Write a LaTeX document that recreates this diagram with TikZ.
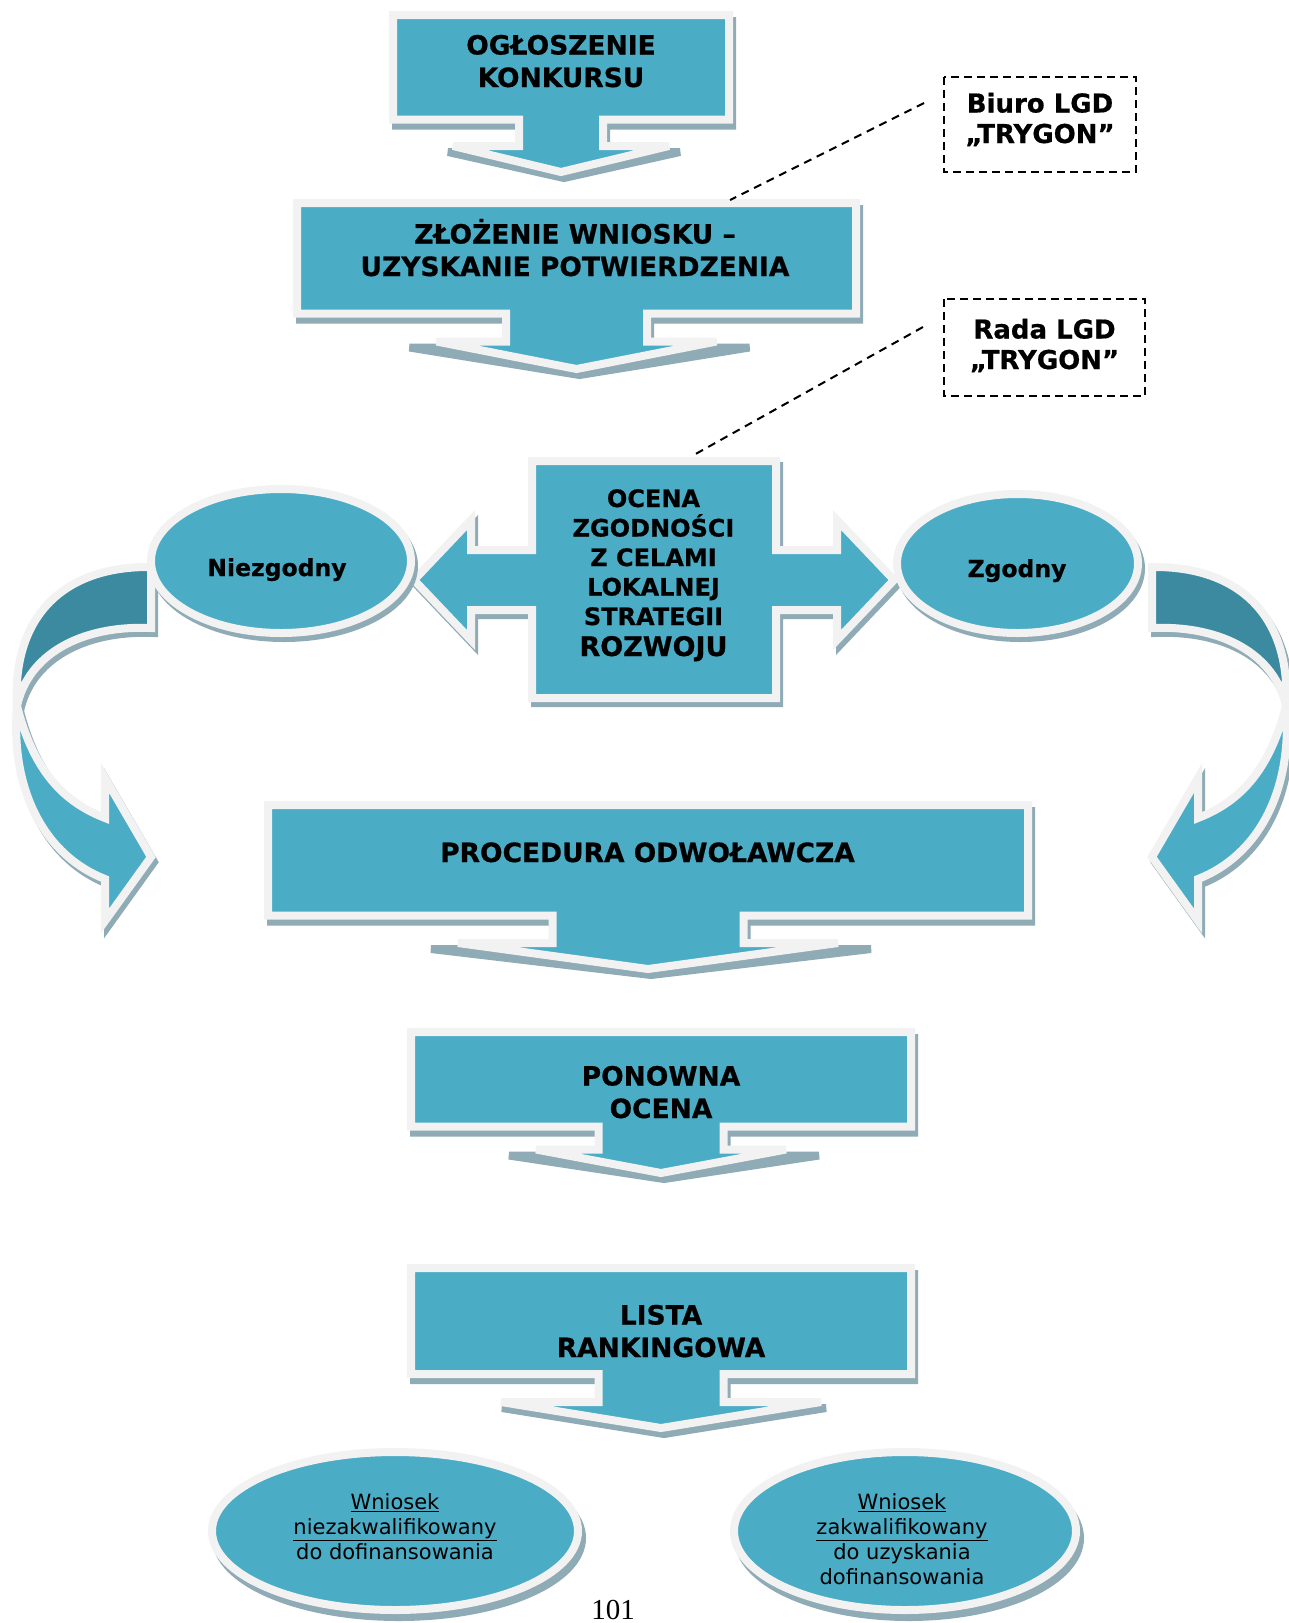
\documentclass[tikz,border=0pt]{standalone}
\usepackage{fontspec}
\setmainfont[BoldFeatures={FakeBold=0.6}]{DejaVu Sans}
\newfontfamily\numfont{Liberation Serif}
\definecolor{tealc}{RGB}{75,172,198}
\definecolor{lightc}{RGB}{242,242,242}
\definecolor{shadc}{RGB}{143,171,181}
\definecolor{darkc}{RGB}{60,138,159}
% down-arrow callout: cx, left, top, right, bottom, stem half width, wing y, wing half width, tip y
\newcommand{\dpath}[9]{(#2,#3) -- (#4,#3) -- (#4,#5) -- ({#1+#6},#5) -- ({#1+#6},#7) -- ({#1+#8},#7) -- (#1,#9) -- ({#1-#8},#7) -- ({#1-#6},#7) -- ({#1-#6},#5) -- (#2,#5) -- cycle}
% curved (twisted) arrow on the left side
\newcommand{\leftcurve}[2]{%
  \path[#1] (151,567) .. controls (60,566) and (12,620) .. (17,706) .. controls (28,655) and (80,625) .. (151,628) -- cycle;
  \path[#2] (17,706) .. controls (10,792) and (46,856) .. (105,879) -- (105,921) -- (151,857) -- (105,778) -- (105,818) .. controls (64,802) and (34,772) .. (17,706) -- cycle;
}
\begin{document}
\begin{tikzpicture}[x=1pt,y=-1pt,
  box/.style={draw=lightc,fill=tealc,line width=8pt,line join=miter,miter limit=3},
  shade/.style={draw=shadc,fill=shadc,line width=8pt,line join=miter,miter limit=3},
  cshade/.style={draw=shadc,fill=shadc,line width=8pt,line join=miter,miter limit=4},
  cdark/.style={draw=lightc,fill=darkc,line width=8pt,line join=miter,miter limit=4},
  cteal/.style={draw=lightc,fill=tealc,line width=8pt,line join=miter,miter limit=4},
  boxtxt/.style={font=\bfseries\fontsize{26.5}{32.5}\selectfont,align=center,anchor=base,inner sep=0pt},
  ovaltxt/.style={font=\bfseries\fontsize{23.5}{28}\selectfont,anchor=base,inner sep=0pt},
  lgdtxt/.style={font=\bfseries\fontsize{26}{30.5}\selectfont,align=center,anchor=base,inner sep=0pt},
  smalltxt/.style={font=\fontsize{21}{25}\selectfont,align=center,anchor=base,inner sep=0pt},
  lgdbox/.style={draw=black,line width=2pt,dash pattern=on 8pt off 5pt},
  dashln/.style={draw=black,line width=2pt,dash pattern=on 8pt off 6pt}]
\useasboundingbox (0,0) rectangle (1289,1623);
\fill[white] (0,0) rectangle (1289,1623);

% ---- curved arrows ----
\begin{scope}[shift={(3,5)}]
  \leftcurve{cshade}{cshade}
  \begin{scope}[shift={(1303,0)},xscale=-1]
    \leftcurve{cshade}{cshade}
  \end{scope}
\end{scope}
\leftcurve{cdark}{cteal}
\begin{scope}[shift={(1303,0)},xscale=-1]
  \leftcurve{cdark}{cteal}
\end{scope}

% ---- down callouts ----
\path[shade,shift={(3,6)}] \dpath{561}{393}{15}{729}{119.5}{42}{146}{116}{172};
\path[box] \dpath{561}{393}{15}{729}{119.5}{42}{146}{108}{172};

\path[shade,shift={(3,6)}] \dpath{576.5}{297}{203}{856}{313.5}{70.5}{341.5}{170}{369};
\path[box] \dpath{576.5}{297}{203}{856}{313.5}{70.5}{341.5}{140}{369};

\path[shade,shift={(3,6)}] \dpath{648}{268}{805}{1028}{915.5}{95.5}{943}{220}{969};
\path[box] \dpath{648}{268}{805}{1028}{915.5}{95.5}{943}{190}{969};

\path[shade,shift={(3,6)}] \dpath{661}{411}{1032}{911}{1126.5}{62.5}{1149.5}{155}{1173};
\path[box] \dpath{661}{411}{1032}{911}{1126.5}{62.5}{1149.5}{125}{1173};

\path[shade,shift={(3,6)}] \dpath{661}{411}{1268}{911}{1374}{62.5}{1402}{162}{1428};
\path[box] \dpath{661}{411}{1268}{911}{1374}{62.5}{1402}{160}{1428};

% ---- left-right arrow callout (OCENA) ----
\path[shade,shift={(3,5)}] (532,461) -- (776,461) -- (776,550) -- (837,550) -- (837,520) -- (894,580) -- (837,640) -- (837,610) -- (776,610) -- (776,698) -- (532,698) -- (532,610) -- (471,610) -- (471,640) -- (414,580) -- (471,520) -- (471,550) -- (532,550) -- cycle;
\path[box] (532,461) -- (776,461) -- (776,550) -- (837,550) -- (837,520) -- (894,580) -- (837,640) -- (837,610) -- (776,610) -- (776,698) -- (532,698) -- (532,610) -- (471,610) -- (471,640) -- (414,580) -- (471,520) -- (471,550) -- (532,550) -- cycle;

% ---- ellipses ----
\path[shade,shift={(3,5)}] (281,561) ellipse [x radius=130,y radius=72];
\path[box] (281,561) ellipse [x radius=130,y radius=72];
\path[shade,shift={(3,5)}] (1017.5,563.5) ellipse [x radius=120.5,y radius=69.5];
\path[box] (1017.5,563.5) ellipse [x radius=120.5,y radius=69.5];
\path[shade,shift={(4,7)}] (395,1531) ellipse [x radius=183,y radius=79];
\path[box] (395,1531) ellipse [x radius=183,y radius=79];
\path[shade,shift={(4,7)}] (905,1531) ellipse [x radius=171,y radius=79];
\path[box] (905,1531) ellipse [x radius=171,y radius=79];

% ---- LGD boxes and dashed links ----
\draw[lgdbox] (944,77) rectangle (1136,172);
\draw[lgdbox] (944,299) rectangle (1145,396);
\coordinate (biuroend) at (924,103);
\coordinate (zlozenietop) at (730,200);
\coordinate (radaend) at (923,327);
\coordinate (ocenatop) at (692,456);
\draw[dashln] (biuroend) -- (zlozenietop);
\draw[dashln] (radaend) -- (ocenatop);

% ---- texts (anchor = baseline of the last line) ----
\node[boxtxt] (ogl) at (561,87) {OGŁOSZENIE\\KONKURSU};
\node[boxtxt] (zloz) at (575,276) {ZŁOŻENIE WNIOSKU –\\UZYSKANIE POTWIERDZENIA};
\node[boxtxt] (proc) at (647.5,862) {PROCEDURA ODWOŁAWCZA};
\node[boxtxt] (pon) at (661,1118) {PONOWNA\\OCENA};
\node[boxtxt] (lista) at (661,1357) {LISTA\\RANKINGOWA};
\node[boxtxt,font=\bfseries\fontsize{24}{29.5}\selectfont] (ocena) at (653.5,656) {OCENA\\ZGODNOŚCI\\Z CELAMI\\LOKALNEJ\\STRATEGII\\[1.5pt]{\fontsize{27}{31}\selectfont ROZWOJU}};
\node[ovaltxt] (niezg) at (277,576) {Niezgodny};
\node[ovaltxt] (zg) at (1017,577) {Zgodny};
\node[lgdtxt] (biuro) at (1040,143) {Biuro LGD\\„TRYGON”};
\node[lgdtxt] (rada) at (1044.5,369) {Rada LGD\\„TRYGON”};
\node[smalltxt] (wn1) at (395,1559) {\underline{Wniosek}\\\underline{niezakwalifikowany}\\do dofinansowania};
\node[smalltxt] (wn2) at (902,1584) {\underline{Wniosek}\\\underline{zakwalifikowany}\\do uzyskania\\dofinansowania};
\node[anchor=base,inner sep=0pt,font=\numfont\fontsize{29}{33}\selectfont] (pnum) at (613,1619) {101};
\end{tikzpicture}
\end{document}
